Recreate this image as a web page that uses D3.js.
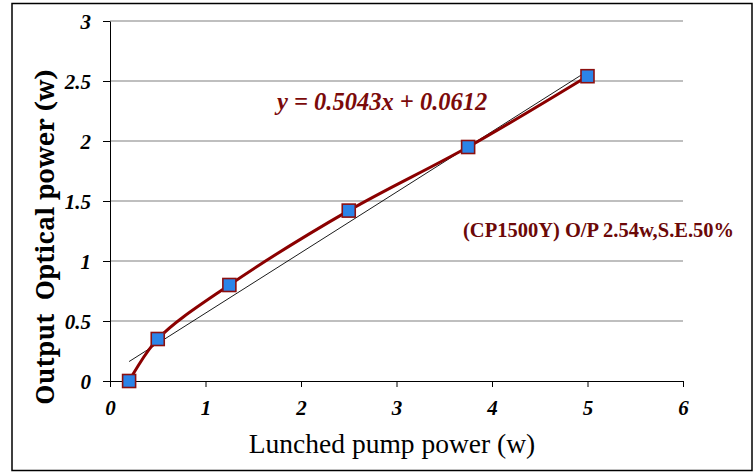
<!DOCTYPE html>
<html><head><meta charset="utf-8">
<script src="https://cdn.jsdelivr.net/npm/d3@7"></script>
<style>body{margin:0;background:#fff}svg{display:block}</style>
</head><body>
<svg id="c" width="756" height="474"></svg>
<script>
const pumpPower = [0.2, 0.5, 1.25, 2.5, 3.75, 5];
const outputPower = [0, 0.35, 0.8, 1.42, 1.95, 2.54];
const xTicks = [0, 1, 2, 3, 4, 5, 6];
const yTicks = [0, 0.5, 1, 1.5, 2, 2.5, 3];
const trendSlope = 0.5043, trendIntercept = 0.0612;
const trendRange = [0.2, 5];

const svg = d3.select("#c");
svg.append("rect").attr("x",12).attr("y",3.5).attr("width",740).attr("height",467)
  .attr("fill","#fff").attr("stroke","#000").attr("stroke-width",1.5);

const x = d3.scaleLinear().domain([0,6]).range([110,683]);
const y = d3.scaleLinear().domain([0,3]).range([381,21]);

svg.append("g").selectAll("line").data(yTicks.filter(d=>d>0)).join("line")
  .attr("x1",x(0)).attr("x2",x(6)).attr("y1",d=>y(d)).attr("y2",d=>y(d))
  .attr("stroke","#808080").attr("stroke-width",1.2);

const serif = "Liberation Serif";

const yAxis = svg.append("g").attr("transform",`translate(${x(0)},0)`)
  .call(d3.axisLeft(y).tickValues(yTicks).tickSize(7).tickSizeOuter(0).tickFormat(d=>String(d)));
const xAxis = svg.append("g").attr("transform",`translate(0,${y(0)})`)
  .call(d3.axisBottom(x).tickValues(xTicks).tickSize(6).tickSizeOuter(0).tickFormat(d=>String(d)));
[yAxis,xAxis].forEach(g=>{
  g.attr("font-family",serif).attr("font-size",21);
  g.select(".domain").attr("stroke","#000").attr("stroke-width",1);
  g.selectAll(".tick line").attr("stroke","#000");
  g.selectAll("text").attr("font-family",serif).attr("font-style","italic")
   .attr("font-weight","bold").attr("font-size",21).attr("fill","#000");
});
yAxis.selectAll("text").attr("x",-19).attr("dy","0.35em");
xAxis.selectAll("text").attr("y",19).attr("dy","0.71em");

svg.append("line")
  .attr("x1",x(trendRange[0])).attr("y1",y(trendSlope*trendRange[0]+trendIntercept))
  .attr("x2",x(trendRange[1])).attr("y2",y(trendSlope*trendRange[1]+trendIntercept))
  .attr("stroke","#000").attr("stroke-width",0.9);

const pts = pumpPower.map((p,i)=>[p,outputPower[i]]);
svg.append("path").datum(pts)
  .attr("d",d3.line().x(d=>x(d[0])).y(d=>y(d[1])).curve(d3.curveCatmullRom.alpha(0.5)))
  .attr("fill","none").attr("stroke","#8B0000").attr("stroke-width",3);

const s = 13;
svg.append("g").selectAll("rect").data(pts).join("rect")
  .attr("x",d=>x(d[0])-s/2).attr("y",d=>y(d[1])-s/2).attr("width",s).attr("height",s)
  .attr("fill","#2B84E8").attr("stroke","#8B1010").attr("stroke-width",1.6);

svg.append("text").attr("x",277).attr("y",110).attr("font-family",serif)
  .attr("font-style","italic").attr("font-weight","bold").attr("font-size",24.5)
  .attr("fill","#7B0A0A").text("y = 0.5043x + 0.0612");
svg.append("text").attr("x",463).attr("y",237).attr("font-family",serif)
  .attr("font-weight","bold").attr("font-size",20.5)
  .attr("fill","#6B0808").text("(CP1500Y) O/P 2.54w,S.E.50%");
svg.append("text").attr("x",392).attr("y",453).attr("text-anchor","middle")
  .attr("font-family",serif).attr("font-size",27.5).attr("fill","#000")
  .text("Lunched pump power (w)");
svg.append("text").attr("transform","translate(54,237) rotate(-90)").attr("text-anchor","middle")
  .attr("font-family","Noto Serif").attr("font-weight","bold").attr("font-size",25.5).attr("fill","#000")
  .style("white-space","pre")
  .text("Output  Optical power (w)");
</script>
</body></html>
